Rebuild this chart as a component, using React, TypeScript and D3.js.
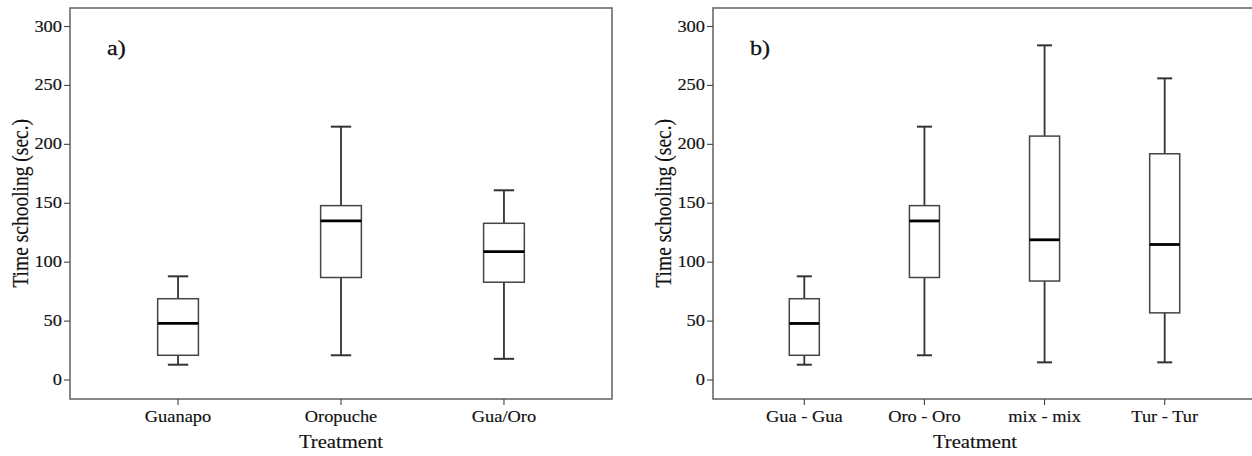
import React from "react";
import * as d3 from "d3";

// ---- Data ----
const yTicks = [0, 50, 100, 150, 200, 250, 300];

const leftCategories = ["Guanapo", "Oropuche", "Gua/Oro"];
const leftWhiskerLow = [13, 21, 18];
const leftQ1 = [21, 87, 83];
const leftMedian = [48, 135, 109];
const leftQ3 = [69, 148, 133];
const leftWhiskerHigh = [88, 215, 161];

const rightCategories = ["Gua - Gua", "Oro - Oro", "mix - mix", "Tur - Tur"];
const rightWhiskerLow = [13, 21, 15, 15];
const rightQ1 = [21, 87, 84, 57];
const rightMedian = [48, 135, 119, 115];
const rightQ3 = [69, 148, 207, 192];
const rightWhiskerHigh = [88, 215, 284, 256];

const yLabel = "Time schooling (sec.)";
const xLabel = "Treatment";

const W = 1252;
const H = 456;
const SX = 1.15; // horizontal glyph stretch seen in the reference
const FONT = "'Liberation Serif', 'Times New Roman', serif";
const TXT = { fill: "#111", stroke: "#111", strokeWidth: 0.15 };

type PanelProps = {
  x0: number;
  x1: number;
  padding: number;
  cats: string[];
  lo: number[];
  q1: number[];
  med: number[];
  q3: number[];
  hi: number[];
  tag: string;
  titleX: number;
};

function Panel({ x0, x1, padding, cats, lo, q1, med, q3, hi, tag, titleX }: PanelProps) {
  const top = 8;
  const bottom = 399;
  const y = d3.scaleLinear().domain([-16.1, 315.7]).range([bottom, top]);
  const x = d3.scalePoint<string>().domain(cats).range([x0, x1]).padding(padding);
  const step = x.step();
  const bw = step * 0.25;
  const cap = bw / 2;
  const midY = (y(0) + y(300)) / 2;

  return (
    <g>
      {/* frame */}
      <rect x={x0} y={top} width={x1 - x0} height={bottom - top} fill="none" stroke="#6a6a6a" strokeWidth={1.6} />
      {/* y ticks */}
      {yTicks.map((t) => (
        <g key={t}>
          <line x1={x0 - 6} x2={x0} y1={y(t)} y2={y(t)} stroke="#444" strokeWidth={1.1} />
          <text
            transform={`translate(${x0 - 8},${y(t) + 5}) scale(${SX},1)`}
            textAnchor="end"
            fontSize={16}
            fontFamily={FONT}
            {...TXT}
          >
            {t}
          </text>
        </g>
      ))}
      {/* x ticks */}
      {cats.map((c) => (
        <g key={c}>
          <line x1={x(c)!} x2={x(c)!} y1={bottom} y2={bottom + 6} stroke="#444" strokeWidth={1.1} />
          <text
            transform={`translate(${x(c)!},${bottom + 23}) scale(${SX},1)`}
            textAnchor="middle"
            fontSize={16}
            fontFamily={FONT}
            {...TXT}
          >
            {c}
          </text>
        </g>
      ))}
      {/* boxes */}
      {cats.map((c, i) => {
        const cx = x(c)!;
        return (
          <g key={"b" + c}>
            <line x1={cx} x2={cx} y1={y(hi[i])} y2={y(q3[i])} stroke="#333" strokeWidth={1.8} />
            <line x1={cx} x2={cx} y1={y(q1[i])} y2={y(lo[i])} stroke="#333" strokeWidth={1.8} />
            <line x1={cx - cap / 2} x2={cx + cap / 2} y1={y(hi[i])} y2={y(hi[i])} stroke="#333" strokeWidth={2} />
            <line x1={cx - cap / 2} x2={cx + cap / 2} y1={y(lo[i])} y2={y(lo[i])} stroke="#333" strokeWidth={2} />
            <rect
              x={cx - bw / 2}
              y={y(q3[i])}
              width={bw}
              height={y(q1[i]) - y(q3[i])}
              fill="#fff"
              stroke="#444"
              strokeWidth={1.5}
            />
            <line x1={cx - bw / 2} x2={cx + bw / 2} y1={y(med[i])} y2={y(med[i])} stroke="#000" strokeWidth={2.8} />
          </g>
        );
      })}
      {/* panel tag */}
      <text
        transform={`translate(${x0 + 37},${55}) scale(${SX},1)`}
        fontSize={21}
        fontFamily={FONT}
        {...TXT}
        strokeWidth={0.3}
      >
        {tag}
      </text>
      {/* axis titles */}
      <text
        transform={`translate(${x0 - 42},${midY}) scale(${SX},1) rotate(-90)`}
        textAnchor="middle"
        fontSize={19.5}
        fontFamily={FONT}
        {...TXT}
      >
        {yLabel}
      </text>
      <text
        transform={`translate(${titleX},${bottom + 49}) scale(${SX},1)`}
        textAnchor="middle"
        fontSize={18}
        fontFamily={FONT}
        {...TXT}
      >
        {xLabel}
      </text>
    </g>
  );
}

export default function App() {
  return (
    <svg
      width={W}
      height={H}
      viewBox={`0 0 ${W} ${H}`}
      style={{ position: "absolute", left: 0, top: 0, background: "#fff" }}
    >
      <rect x={0} y={0} width={W} height={H} fill="#fff" />
      <Panel
        x0={70}
        x1={612}
        padding={0.663}
        cats={leftCategories}
        lo={leftWhiskerLow}
        q1={leftQ1}
        med={leftMedian}
        q3={leftQ3}
        hi={leftWhiskerHigh}
        tag="a)"
        titleX={341}
      />
      <Panel
        x0={713}
        x1={1256}
        padding={0.76}
        cats={rightCategories}
        lo={rightWhiskerLow}
        q1={rightQ1}
        med={rightMedian}
        q3={rightQ3}
        hi={rightWhiskerHigh}
        tag="b)"
        titleX={975}
      />
    </svg>
  );
}
